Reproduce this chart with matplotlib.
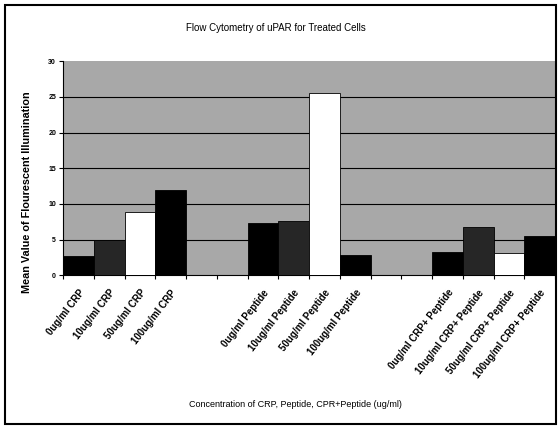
import numpy as np
import matplotlib
matplotlib.use("Agg")
import matplotlib.pyplot as plt
import matplotlib.transforms as mtrans
from matplotlib.patches import Rectangle

plt.rcParams['font.family'] = ['Liberation Sans', 'DejaVu Sans']

# data
doses = ['0ug/ml', '10ug/ml', '50ug/ml', '100ug/ml']
groups = ['CRP', 'Peptide', 'CRP+ Peptide']
crp_vals = [2.7, 5.0, 8.9, 12.0]
pep_vals = [7.3, 7.6, 25.6, 2.9]
combo_vals = [3.3, 6.7, 3.1, 5.5]
yticks = [0, 5, 10, 15, 20, 25, 30]

bar_colors = ['black', '#262626', 'white', 'black']

fig = plt.figure(figsize=(5.58, 4.28), dpi=100)
ax = fig.add_axes([0.113, 0.357, 0.882, 0.5])
ax.set_facecolor('#a8a8a8')

gap = 2
xpos = []
labels = []
vals = []
cols = []
for g, (name, v) in enumerate(zip(groups, [crp_vals, pep_vals, combo_vals])):
    for i, d in enumerate(doses):
        xpos.append(g * (len(doses) + gap) + i)
        labels.append(d + ' ' + name)
        vals.append(v[i])
        cols.append(bar_colors[i])
xpos = np.array(xpos)

ax.bar(xpos, vals, width=1.0, color=cols, edgecolor='black', linewidth=0.6, zorder=3)

ax.set_ylim(0, 30)
ax.set_xlim(-0.5, xpos.max() + 0.5)
ax.set_yticks(yticks)
ax.set_yticklabels([str(t) for t in yticks], fontsize=5, fontweight='bold')
for t in yticks[1:-1]:
    ax.axhline(t, color='black', linewidth=0.8, zorder=1)

ax.set_xticks(np.arange(-0.5, xpos.max() + 1.0, 1.0))
ax.set_xticklabels([])
ax.set_xticks(xpos, minor=True)
ax.set_xticklabels(labels, minor=True, rotation=52, ha='right', rotation_mode='anchor',
                   fontsize=7, fontweight='bold')
shift = mtrans.ScaledTranslation(4 / 72, 0, fig.dpi_scale_trans)
for lab in ax.get_xticklabels(minor=True):
    lab.set_transform(lab.get_transform() + shift)
ax.tick_params(axis='x', which='minor', length=0, pad=9)
ax.tick_params(axis='x', which='major', length=3, width=0.8, direction='out')
ax.tick_params(axis='y', length=3, width=0.8, pad=2)

for s in ['top', 'right']:
    ax.spines[s].set_visible(False)
ax.spines['left'].set_linewidth(0.8)
ax.spines['bottom'].set_linewidth(0.8)

fig.text(0.495, 0.935, 'Flow Cytometry of uPAR for Treated Cells', ha='center', va='center',
         fontsize=7)
fig.text(0.53, 0.054, 'Concentration of CRP, Peptide, CPR+Peptide (ug/ml)', ha='center',
         va='center', fontsize=6.5)
fig.text(0.048, 0.551, 'Mean Value of Flourescent Illumination', rotation=90, ha='center',
         va='center', fontsize=7.8, fontweight='bold')

fig.patches.append(Rectangle((0.009, 0.01), 0.988, 0.978, transform=fig.transFigure,
                             fill=False, edgecolor='black', linewidth=1.5))

fig.savefig('out.png', dpi=100)
